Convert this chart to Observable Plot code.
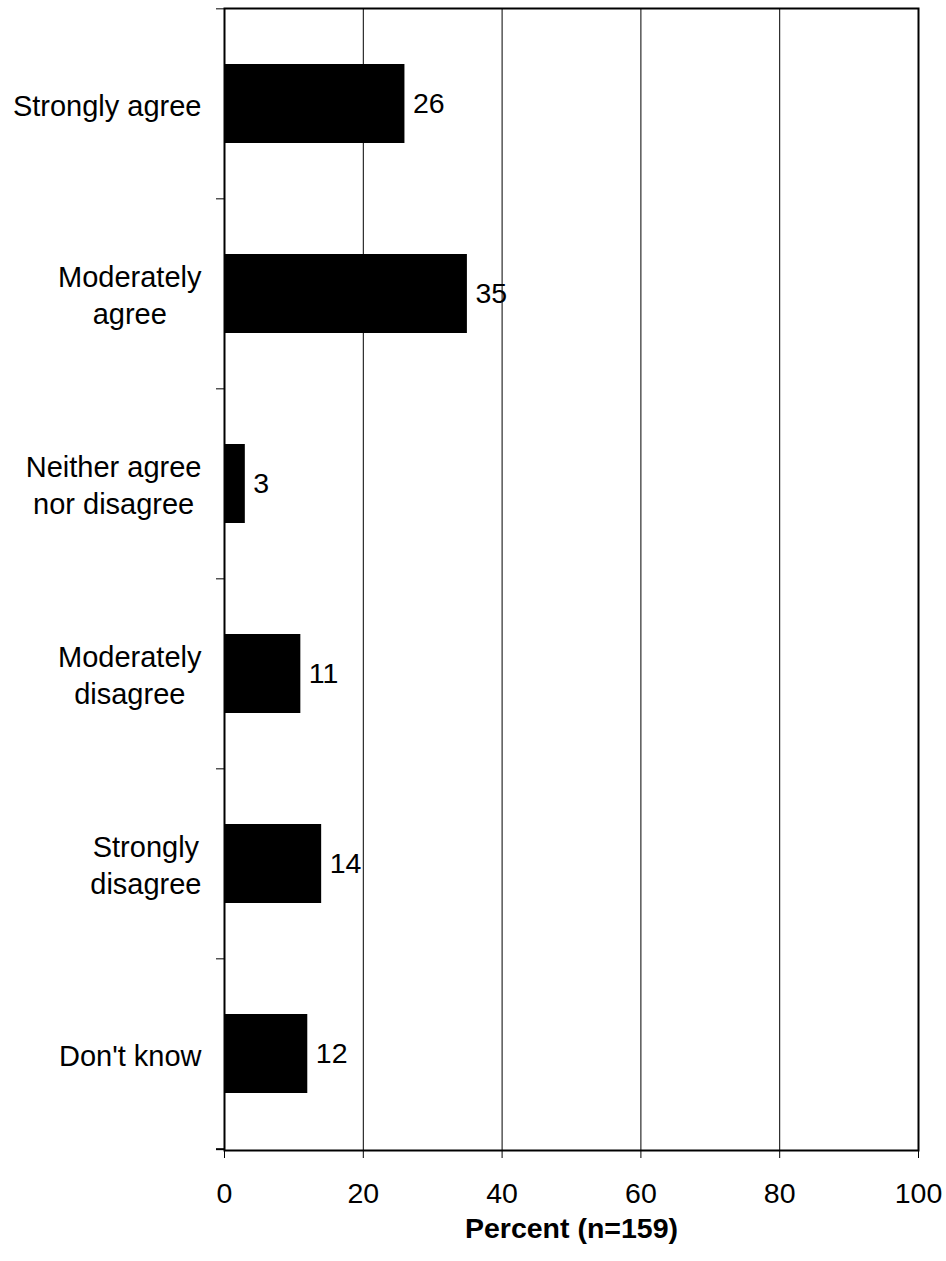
<!DOCTYPE html>
<html><head><meta charset="utf-8">
<script src="https://cdn.jsdelivr.net/npm/d3@7"></script>
<script src="https://cdn.jsdelivr.net/npm/@observablehq/plot@0.6"></script>
<style>html,body{margin:0;padding:0;background:#fff}svg{display:block}</style>
</head><body><div id="chart"></div>
<script>
// ---- data ----
const categories = ["Strongly agree", "Moderately agree", "Neither agree nor disagree", "Moderately disagree", "Strongly disagree", "Don't know"];
const categoryLabels = ["Strongly agree", "Moderately\nagree", "Neither agree\nnor disagree", "Moderately\ndisagree", "Strongly\ndisagree", "Don't know"];
const percents = [26, 35, 3, 11, 14, 12];
const xTicks = [0, 20, 40, 60, 80, 100];
const xLabel = "Percent (n=159)";

// ---- layout ----
const W = 946, H = 1261, mL = 224, mR = 28, mT = 8, mB = 111;
const FONT = "'Liberation Sans', Arial, Helvetica, sans-serif";
const FS = 28.5, FS_CAT = 29;
const padIn = 0.584;
const step = (H - mT - mB) / categories.length;

const data = categories.map((c, i) => ({category: c, label: categoryLabels[i], value: percents[i]}));

const ctx = document.createElement("canvas").getContext("2d");
ctx.font = `${FS_CAT}px ${FONT}`;
const maxLineWidth = s => Math.max(...s.split("\n").map(l => ctx.measureText(l).width));

const labelMarks = data.map(d => Plot.text([d], {
  y: "category", text: "label", frameAnchor: "left", textAnchor: "middle",
  lineAnchor: "middle", lineHeight: 1.27, fontSize: FS_CAT,
  dx: -(23 + maxLineWidth(d.label) / 2)
}));

const chart = Plot.plot({
  width: W, height: H,
  marginLeft: mL, marginRight: mR, marginTop: mT, marginBottom: mB,
  style: {fontFamily: FONT, fontSize: FS + "px", background: "white", color: "black"},
  x: {domain: [0, 100]},
  y: {domain: categories, paddingInner: padIn, paddingOuter: padIn / 2, axis: null},
  marks: [
    Plot.gridX(xTicks, {stroke: "black", strokeOpacity: 1, strokeWidth: 1}),
    Plot.barX(data, {x: "value", y: "category", fill: "black"}),
    Plot.frame({stroke: "black", strokeWidth: 2}),
    Plot.ruleY(categories, {y: d => d, x1: 0, x2: 0, insetLeft: -8, dy: -step / 2, stroke: "black"}),
    Plot.ruleY([categories[categories.length - 1]], {y: d => d, x1: 0, x2: 0, insetLeft: -8, dy: step / 2, stroke: "black", strokeWidth: 2}),
    Plot.axisX(xTicks, {tickSize: 8, tickPadding: 24, fontSize: FS, label: null}),
    ...labelMarks,
    Plot.text(data, {x: "value", y: "category", text: d => String(d.value), textAnchor: "start", dx: 8, fontSize: FS}),
    Plot.text([xLabel], {text: d => d, frameAnchor: "bottom", lineAnchor: "top", dy: 67, fontWeight: "bold", fontSize: FS})
  ]
});
document.getElementById("chart").appendChild(chart);
</script>
</body></html>
